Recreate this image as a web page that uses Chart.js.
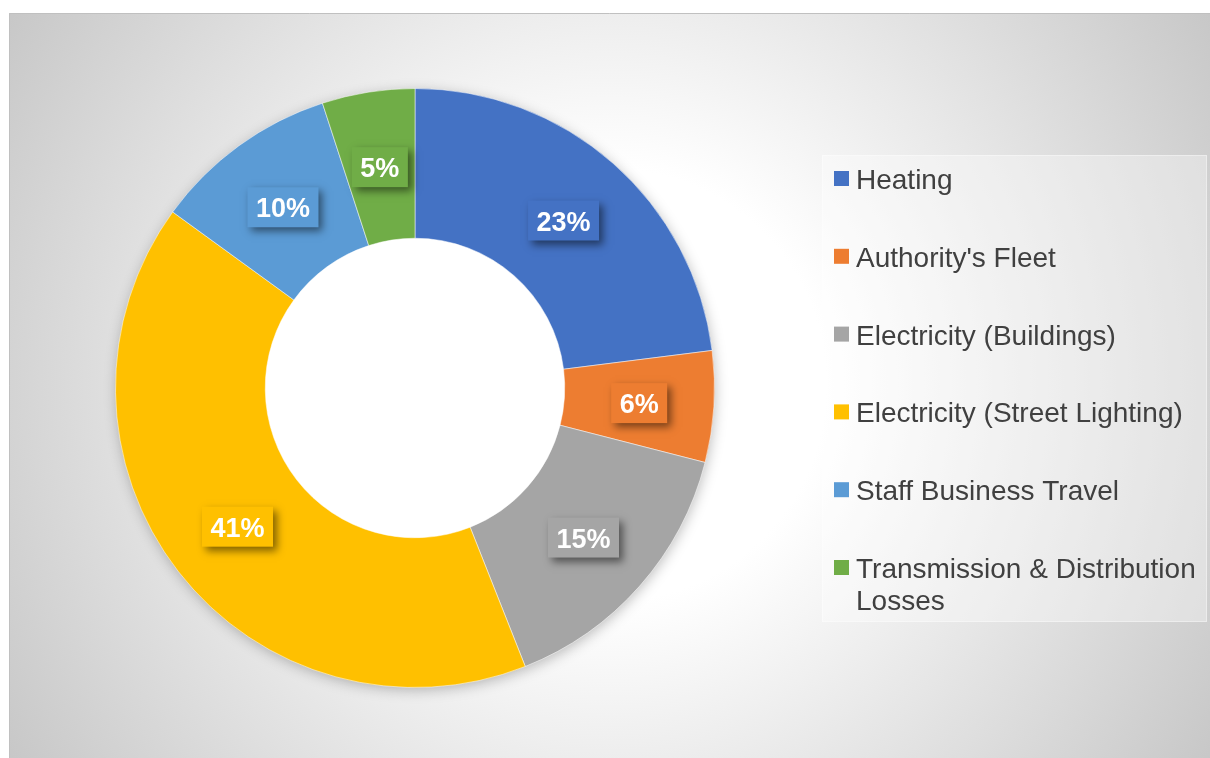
<!DOCTYPE html>
<html>
<head>
<meta charset="utf-8">
<script src="https://cdn.jsdelivr.net/npm/chart.js@4.4.1/dist/chart.umd.min.js"></script>
<style>
  html, body { margin: 0; padding: 0; background: #ffffff; }
  #wrap { width: 1210px; height: 758px; position: relative; }
</style>
</head>
<body>
<div id="wrap"><canvas id="c" width="1210" height="758"></canvas></div>
<script>
const categories = [
  "Heating",
  "Authority's Fleet",
  "Electricity (Buildings)",
  "Electricity (Street Lighting)",
  "Staff Business Travel",
  "Transmission & Distribution Losses"
];
const values = [23, 6, 15, 41, 10, 5];
const colors = ["#4472C4", "#ED7D31", "#A5A5A5", "#FFC000", "#5B9BD5", "#70AD47"];

const FONT = '"Liberation Sans", Arial, "DejaVu Sans", sans-serif';

const backgroundPlugin = {
  id: 'bgFrame',
  beforeDraw(chart) {
    const ctx = chart.ctx;
    ctx.save();
    ctx.fillStyle = '#ffffff';
    ctx.fillRect(0, 0, chart.width, chart.height);
    const g = ctx.createRadialGradient(610, 385, 0, 610, 385, 720);
    g.addColorStop(0, '#ffffff');
    g.addColorStop(0.3, '#ffffff');
    g.addColorStop(1, '#c6c6c6');
    ctx.fillStyle = g;
    ctx.fillRect(9, 13, chart.width - 9, chart.height - 13);
    ctx.strokeStyle = '#c0c0c0';
    ctx.lineWidth = 1;
    ctx.beginPath();
    ctx.moveTo(9.5, chart.height);
    ctx.lineTo(9.5, 13.5);
    ctx.lineTo(chart.width, 13.5);
    ctx.stroke();
    ctx.restore();
  },
  beforeDatasetsDraw(chart) {
    const meta = chart.getDatasetMeta(0);
    if (!meta.data.length) return;
    const a = meta.data[0];
    const ctx = chart.ctx;
    ctx.save();
    // white hole
    ctx.fillStyle = '#ffffff';
    ctx.beginPath();
    ctx.arc(a.x, a.y, a.innerRadius + 1, 0, Math.PI * 2);
    ctx.fill();
    // soft shadow outside the ring
    ctx.beginPath();
    ctx.rect(0, 0, chart.width, chart.height);
    ctx.arc(a.x, a.y, a.innerRadius + 1, 0, Math.PI * 2, true);
    ctx.clip('evenodd');
    ctx.shadowColor = 'rgba(0,0,0,0.28)';
    ctx.shadowBlur = 14;
    ctx.shadowOffsetX = 1;
    ctx.shadowOffsetY = 3;
    ctx.fillStyle = '#bbbbbb';
    ctx.beginPath();
    ctx.arc(a.x, a.y, a.outerRadius - 1, 0, Math.PI * 2);
    ctx.fill();
    ctx.restore();
  }
};

const labelPlugin = {
  id: 'pctLabels',
  afterDatasetsDraw(chart) {
    const ctx = chart.ctx;
    const meta = chart.getDatasetMeta(0);
    const ds = chart.data.datasets[0];
    meta.data.forEach((arc, i) => {
      const p = arc.getCenterPoint();
      const text = ds.data[i] + '%';
      ctx.save();
      ctx.font = 'bold 27px ' + FONT;
      const w = ctx.measureText(text).width + 17;
      const h = 40;
      const bx = p.x - w / 2, by = p.y + 1 - h / 2;
      ctx.shadowColor = 'rgba(0,0,0,0.5)';
      ctx.shadowBlur = 8;
      ctx.shadowOffsetX = 4;
      ctx.shadowOffsetY = 4;
      ctx.fillStyle = ds.backgroundColor[i];
      ctx.fillRect(bx, by, w, h);
      ctx.shadowColor = 'transparent';
      ctx.fillStyle = '#ffffff';
      ctx.textAlign = 'center';
      ctx.textBaseline = 'alphabetic';
      ctx.fillText(text, p.x, p.y + 11);
      ctx.restore();
    });
  }
};

const legendPlugin = {
  id: 'sideLegend',
  afterDraw(chart) {
    const ctx = chart.ctx;
    const labels = chart.data.labels;
    const cols = chart.data.datasets[0].backgroundColor;
    const box = { x: 822, y: 155, w: 385, h: 467 };
    ctx.save();
    ctx.fillStyle = 'rgba(255,255,255,0.35)';
    ctx.fillRect(box.x, box.y, box.w, box.h);
    ctx.strokeStyle = 'rgba(255,255,255,0.4)';
    ctx.lineWidth = 1;
    ctx.strokeRect(box.x + 0.5, box.y + 0.5, box.w - 1, box.h - 1);
    ctx.font = '28px ' + FONT;
    ctx.textBaseline = 'alphabetic';
    ctx.textAlign = 'left';
    const textX = 856, maxW = 345, firstBase = 189, step = 77.8, lineH = 32;
    labels.forEach((lab, i) => {
      const base = firstBase + i * step;
      ctx.fillStyle = cols[i];
      ctx.fillRect(834, base - 18, 15, 15);
      const words = lab.split(' ');
      const lines = [];
      let cur = '';
      words.forEach(wd => {
        const t = cur ? cur + ' ' + wd : wd;
        if (ctx.measureText(t).width > maxW && cur) { lines.push(cur); cur = wd; }
        else cur = t;
      });
      if (cur) lines.push(cur);
      ctx.fillStyle = '#404040';
      lines.forEach((ln, k) => ctx.fillText(ln, textX, base + k * lineH));
    });
    ctx.restore();
  }
};

new Chart(document.getElementById('c'), {
  type: 'doughnut',
  data: {
    labels: categories,
    datasets: [{
      data: values,
      backgroundColor: colors,
      borderColor: 'rgba(255,255,255,0.5)',
      borderWidth: 1
    }]
  },
  options: {
    responsive: false,
    animation: false,
    cutout: '50%',
    layout: { padding: { left: 115, top: 88, right: 495, bottom: 70 } },
    plugins: {
      legend: { display: false },
      tooltip: { enabled: false }
    }
  },
  plugins: [backgroundPlugin, labelPlugin, legendPlugin]
});
</script>
</body>
</html>
